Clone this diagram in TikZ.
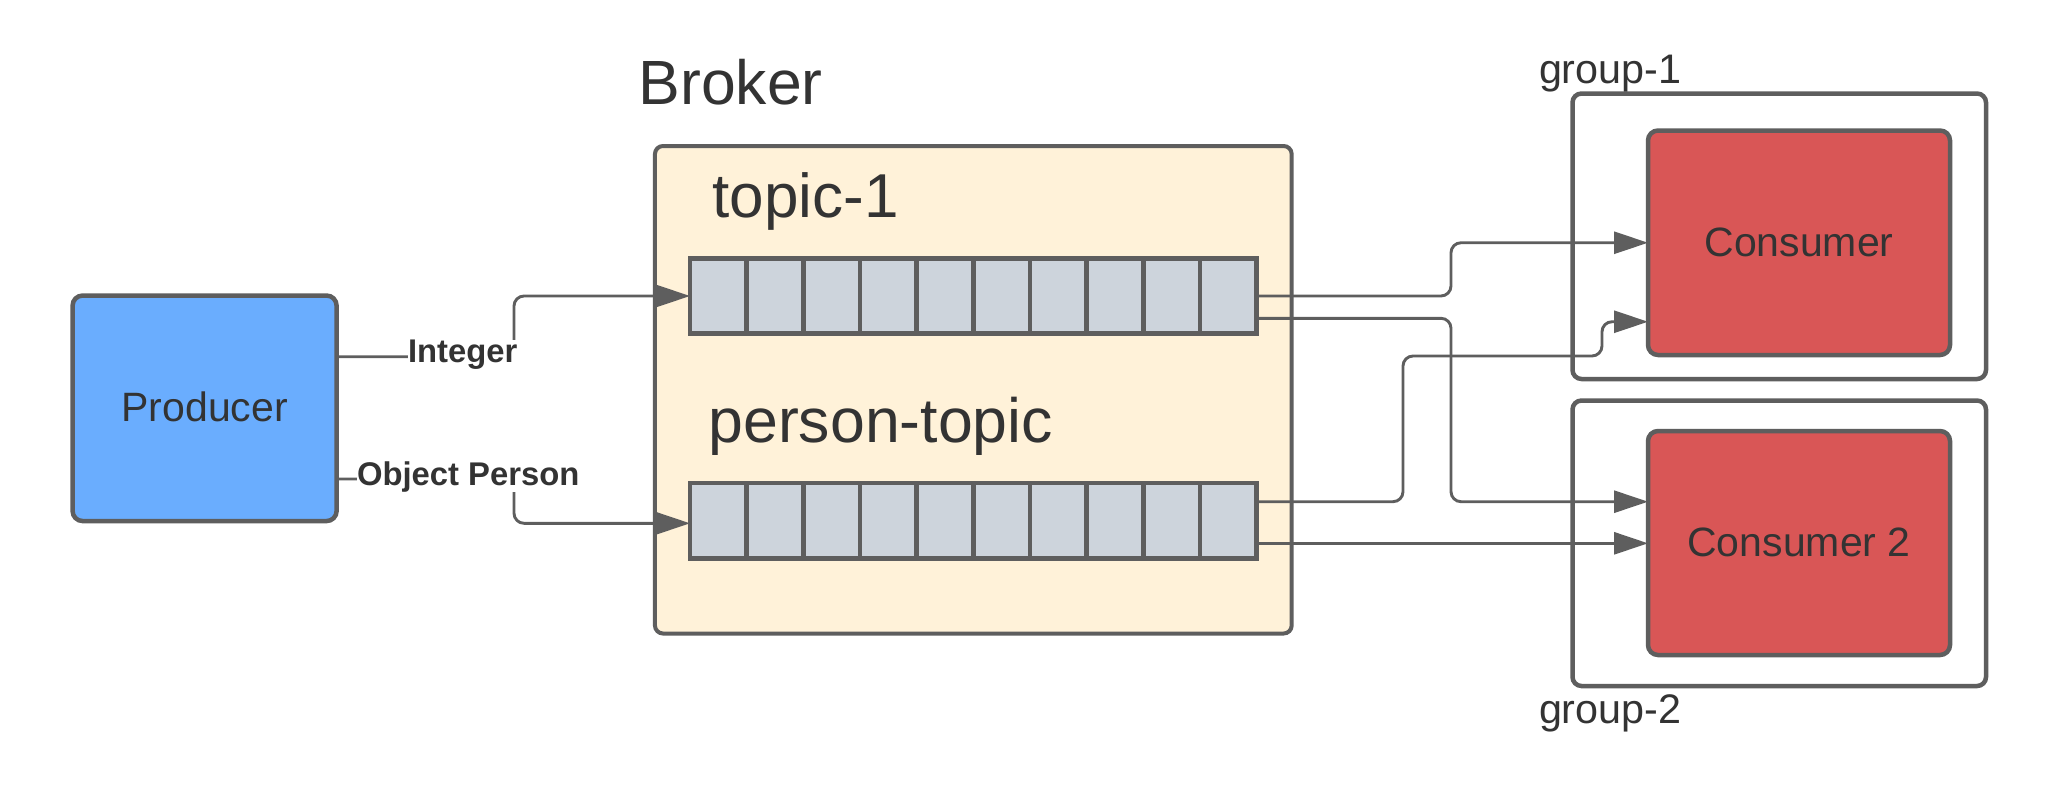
\documentclass[tikz,border=0pt]{standalone}
\usepackage{fontspec}
\setmainfont{Liberation Sans}
\usetikzlibrary{arrows.meta,calc}
\definecolor{linegray}{HTML}{5E5E5E}
\definecolor{txt}{HTML}{333333}
\definecolor{prodblue}{HTML}{6AADFE}
\definecolor{brokercream}{HTML}{FFF2D9}
\definecolor{cellgray}{HTML}{CDD4DC}
\definecolor{consred}{HTML}{D95656}
\tikzset{
  box/.style={draw=linegray, line width=4.5pt, rounded corners=9pt, outer sep=0pt, inner sep=0pt, text=txt},
  queuebox/.style={draw=linegray, line width=4.5pt, fill=cellgray, outer sep=0pt, inner sep=0pt, minimum width=566.7pt, minimum height=75.4pt},
  cellsep/.style={draw=linegray, line width=4.5pt},
  conn/.style={draw=linegray, line width=2.9pt, rounded corners=10pt, -{Triangle[length=34pt,width=22pt]}},
  lbl/.style={fill=white, inner sep=0pt, outer sep=0pt, text=txt, font=\fontsize{32.8}{38}\selectfont\bfseries},
  title/.style={inner sep=0pt, outer sep=0pt, text=txt, anchor=base west},
  midfont/.style={font=\fontsize{41}{49}\selectfont},
}
\begin{document}
\begin{tikzpicture}[x=1pt,y=-1pt]
\useasboundingbox (0,0) rectangle (2070,801);
% containers
\node[box, fill=brokercream, line width=4pt, rounded corners=8pt, minimum width=636.7pt, minimum height=487.5pt] (broker) at (973.3,389.75) {};
\node[box, fill=white, minimum width=413.5pt, minimum height=285.5pt] (g1) at (1779.25,236.25) {};
\node[box, fill=white, minimum width=413.5pt, minimum height=285.5pt] (g2) at (1779.25,543.25) {};
% main boxes
\node[box, fill=prodblue, rounded corners=10pt, minimum width=264pt, minimum height=225.5pt, midfont] (prod) at (204.6,408.3) {\raisebox{2.8pt}{Producer}};
\node[box, fill=consred, rounded corners=10pt, minimum width=302pt, minimum height=224.5pt, midfont] (c1) at (1799,242.75) {\raisebox{2pt}{Consumer}};
\node[box, fill=consred, rounded corners=10pt, minimum width=302pt, minimum height=224pt, midfont] (c2) at (1799,543) {\raisebox{2.6pt}{Consumer 2}};
% queues
\node[queuebox] (q1) at (973.35,296) {};
\node[queuebox] (q2) at (973.35,520.8) {};
\foreach \i in {1,...,9}{
  \draw[cellsep] ($(q1.north west)+(\i*56.67,0)$) -- ($(q1.south west)+(\i*56.67,0)$);
  \draw[cellsep] ($(q2.north west)+(\i*56.67,0)$) -- ($(q2.south west)+(\i*56.67,0)$);
}
% titles
\node[title, font=\fontsize{62.5}{72}\selectfont] (tbroker) at (638.5,104) {Broker};
\node[title, font=\fontsize{62}{72}\selectfont] (ttopic) at (712.5,217.3) {topic-1};
\node[title, font=\fontsize{62.6}{72}\selectfont] (tperson) at (708.5,442.7) {person-topic};
\node[title, font=\fontsize{41.3}{49}\selectfont] (tg1) at (1539,83.3) {group-1};
\node[title, font=\fontsize{41.3}{49}\selectfont] (tg2) at (1539,723.3) {group-2};
% connection points
\coordinate (p1) at ($(prod.east)+(0,-51.6)$);
\coordinate (p2) at ($(prod.east)+(0,70.7)$);
\coordinate (q2in) at ($(q2.west)+(0,2.5)$);
\coordinate (q1o2) at ($(q1.east)+(0,22.3)$);
\coordinate (q2o1) at ($(q2.east)+(0,-19.1)$);
\coordinate (q2o2) at ($(q2.east)+(0,22.5)$);
\coordinate (c1in2) at ($(c1.west)+(0,79)$);
\coordinate (c2in1) at ($(c2.west)+(0,-41.3)$);
% producer to queues
\draw[conn] (p1) -- (514,356.7) |- (q1.west);
\draw[conn] (p2) -- (514,479) |- (q2in);
\node[lbl, anchor=base west] (lint) at (408,362.8) {Integer};
\node[lbl, anchor=base west] (lobj) at (357,485) {Object Person};
% queues to consumers
\draw[conn] (q1.east) -- (1451,296) |- (c1.west);
\draw[conn] (q1o2) -- (1451,318.3) |- (c2in1);
\draw[conn] (q2o1) -- (1403,501.7) -- (1403,356) -- (1602,356) |- (c1in2);
\draw[conn] (q2o2) -- (q2o2 -| c2.west);
\end{tikzpicture}
\end{document}
